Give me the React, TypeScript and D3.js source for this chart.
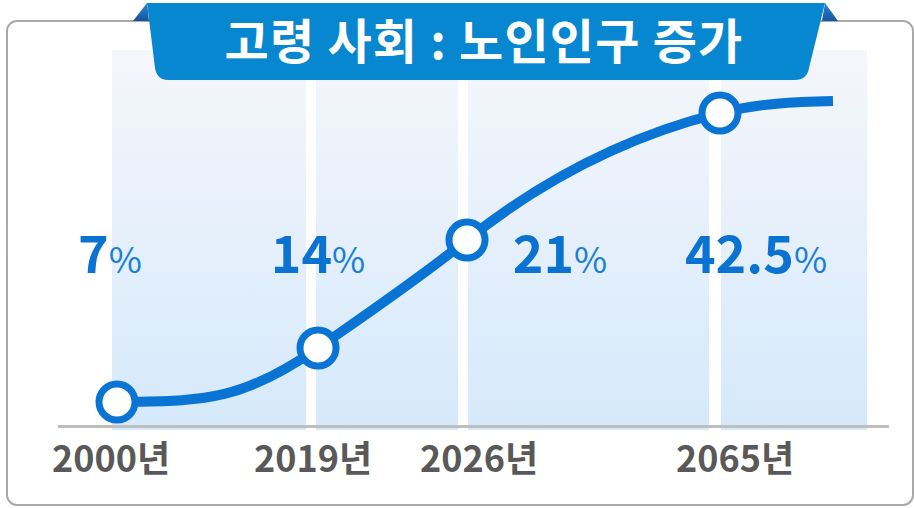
import React from 'react';
import * as d3 from 'd3';

// ---- data ----
const years = [2000, 2019, 2026, 2065];
const yearLabels = ['2000년', '2019년', '2026년', '2065년'];
const shares = [7, 14, 21, 42.5];
const shareLabels = ['7', '14', '21', '42.5'];
const title = '고령 사회 : 노인인구 증가';

// ---- layout ----
const W = 914;
const H = 508;
const pointX = [117, 318, 467, 720];
const levelY = [402, 348, 240, 113];
const tangents = [-0.02, -0.7, -0.8, -0.25, -0.02]; // curve slope at each knot (illustrative S-curve)
const handleFrac = [0.4, 0.34, 0.33, 0.34];
const tail = { dx: 113, dy: -12 };
const colLeft = [112, 316, 468, 721];
const colRight = [306, 458, 709, 867];
const shareLabelX = [110, 318, 560, 756];
const yearLabelX = [111, 313, 479, 735];
const baseY = 426.5;
const colTop = 50;
const colBottom = 430;
const BLUE = '#0A74D4';
const FONT = "'Noto Sans CJK KR', 'Noto Sans', sans-serif";

export default function App() {
  const x = d3.scaleLinear().domain(years).range(pointX);
  const y = d3.scaleLinear().domain(shares).range(levelY);

  const pts: [number, number][] = years.map((yr, i) => [x(yr), y(shares[i])]);
  const last = pts[pts.length - 1];
  const knots: [number, number][] = [...pts, [last[0] + tail.dx, last[1] + tail.dy]];

  const p = d3.path();
  p.moveTo(knots[0][0], knots[0][1]);
  for (let i = 0; i < knots.length - 1; i++) {
    const [x0, y0] = knots[i];
    const [x1, y1] = knots[i + 1];
    const h = (x1 - x0) * handleFrac[i];
    p.bezierCurveTo(x0 + h, y0 + tangents[i] * h, x1 - h, y1 - tangents[i + 1] * h, x1, y1);
  }
  const line = p.toString();

  // title banner shape
  const bx0 = 147, bx1 = 825, by0 = 3, by1 = 80, r = 12;
  const banner = `M${bx0},${by0} L${bx1},${by0} L${bx1 - 16},${by1 - r} Q${bx1 - 18},${by1} ${bx1 - 30},${by1} L${bx0 + 21},${by1} Q${bx0 + 10},${by1} ${bx0 + 8},${by1 - r} Z`;

  return (
    <svg width={W} height={H} style={{ position: 'absolute', left: 0, top: 0, background: '#fff' }} xmlns="http://www.w3.org/2000/svg">
      <defs>
        <linearGradient id="colGrad" x1="0" y1="0" x2="0" y2="1">
          <stop offset="0" stopColor="#F5F6FB" />
          <stop offset="1" stopColor="#D5E9FB" />
        </linearGradient>
        <linearGradient id="foldGrad" x1="0" y1="0" x2="0" y2="1">
          <stop offset="0" stopColor="#2E86D6" />
          <stop offset="1" stopColor="#14549C" />
        </linearGradient>
      </defs>
      <rect x={0} y={0} width={W} height={H} fill="#fff" />
      {/* frame */}
      <rect x={7} y={21} width={906} height={484} rx={10} ry={10} fill="#fff" stroke="#A9A9A9" strokeWidth={2} />

      {/* columns */}
      {colLeft.map((l, i) => (
        <rect key={i} x={l} y={colTop} width={colRight[i] - l} height={colBottom - colTop} fill="url(#colGrad)" />
      ))}

      {/* baseline */}
      <line x1={58} x2={889} y1={baseY} y2={baseY} stroke="#BEBEBE" strokeWidth={3} />

      {/* title banner folds */}
      <path d={`M133,21 L${bx0},${by0} L${bx0 + 2},21 Z`} fill="url(#foldGrad)" />
      <path d={`M838,21 L${bx1},${by0} L${bx1 - 3},21 Z`} fill="url(#foldGrad)" />
      <path d={banner} fill="#0787CF" />
      <text x={484} y={59} textAnchor="middle" fill="#fff" fontFamily={FONT} fontWeight={700} fontSize={48} letterSpacing={1.2}>
        {title}
      </text>

      {/* curve */}
      <path d={line} fill="none" stroke={BLUE} strokeWidth={10} strokeLinecap="butt" />
      {pts.map((q, i) => (
        <circle key={i} cx={q[0]} cy={q[1]} r={18} fill="#fff" stroke={BLUE} strokeWidth={7} />
      ))}

      {/* share labels */}
      {shareLabels.map((s, i) => (
        <text key={i} x={shareLabelX[i]} y={273} textAnchor="middle" fontFamily={FONT}>
          <tspan fontWeight={700} fontSize={52} fill="#0A73D2">{s}</tspan>
          <tspan fontWeight={400} fontSize={36} fill="#1A7FD6">%</tspan>
        </text>
      ))}

      {/* year labels */}
      {yearLabels.map((s, i) => (
        <text key={i} x={yearLabelX[i]} y={472} textAnchor="middle" fontFamily={FONT} fontWeight={700} fontSize={36} fill="#595959">
          {s}
        </text>
      ))}
    </svg>
  );
}
